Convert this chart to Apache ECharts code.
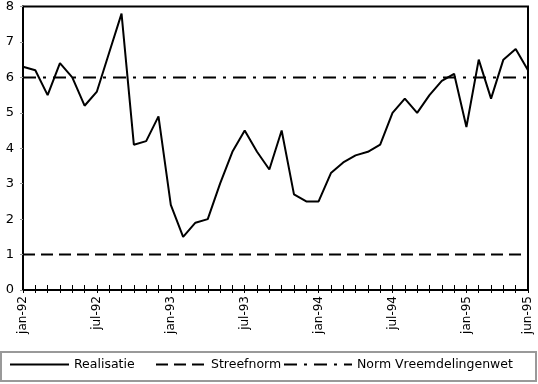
<!DOCTYPE html>
<html>
<head>
<meta charset="utf-8">
<script src="https://cdn.jsdelivr.net/npm/echarts@6/dist/echarts.min.js"></script>
<style>
html,body{margin:0;padding:0;background:#fff;}
#c{width:538px;height:384px;}
</style>
</head>
<body>
<div id="c"></div>
<script>
var categories = [
  'jan-92','feb-92','mrt-92','apr-92','mei-92','jun-92','jul-92','aug-92','sep-92','okt-92','nov-92','dec-92',
  'jan-93','feb-93','mrt-93','apr-93','mei-93','jun-93','jul-93','aug-93','sep-93','okt-93','nov-93','dec-93',
  'jan-94','feb-94','mrt-94','apr-94','mei-94','jun-94','jul-94','aug-94','sep-94','okt-94','nov-94','dec-94',
  'jan-95','feb-95','mrt-95','apr-95','mei-95','jun-95'
];
var realisatie = [
  6.3,6.2,5.5,6.4,6.0,5.2,5.6,6.7,7.8,4.1,4.2,4.9,
  2.4,1.5,1.9,2.0,3.0,3.9,4.5,3.9,3.4,4.5,2.7,2.5,
  2.5,3.3,3.6,3.8,3.9,4.1,5.0,5.4,5.0,5.5,5.9,6.1,
  4.6,6.5,5.4,6.5,6.8,6.2
];
var streefnormValue = 1;
var normVreemdelingenwetValue = 6;
var streefnorm = categories.map(function(){ return streefnormValue; });
var normVw = categories.map(function(){ return normVreemdelingenwetValue; });
var yTicks = [0,1,2,3,4,5,6,7,8];

var FONT = 'DejaVu Sans';
var chart = echarts.init(document.getElementById('c'), null, {renderer:'canvas'});
var labelIdx = {0:1,6:1,12:1,18:1,24:1,30:1,36:1,41:1};
var legendText = {fontSize:12.5,fontFamily:FONT,color:'#000'};
chart.setOption({
  animation:false,
  backgroundColor:'#fff',
  textStyle:{fontFamily:FONT,color:'#000'},
  grid:{left:23,right:10,top:5,bottom:94,show:true,borderColor:'#000',borderWidth:2,backgroundColor:'transparent'},
  xAxis:[{
    type:'category',data:categories,boundaryGap:false,
    axisLine:{lineStyle:{color:'#000',width:2}},
    axisTick:{show:true,interval:0,length:3,lineStyle:{color:'#000',width:1}},
    axisLabel:{rotate:90,margin:6,fontSize:12,fontFamily:FONT,color:'#000',
      interval:function(i){return !!labelIdx[i];}},
    splitLine:{show:false}
  },{
    type:'category',data:categories,boundaryGap:false,position:'bottom',
    axisLine:{show:false},
    axisTick:{show:true,inside:true,interval:0,length:5,lineStyle:{color:'#000',width:1}},
    axisLabel:{show:false},splitLine:{show:false}
  }],
  yAxis:{
    type:'value',min:yTicks[0],max:yTicks[yTicks.length-1],interval:1,
    axisLine:{show:true,lineStyle:{color:'#000',width:2}},
    axisTick:{show:true,length:3,lineStyle:{color:'#999'}},
    axisLabel:{fontSize:13,fontFamily:FONT,color:'#000',margin:9},
    splitLine:{show:false}
  },
  legend:[
    {data:['Realisatie'],left:9,top:358,itemWidth:59,itemHeight:12,padding:0,
     itemStyle:{opacity:0},textStyle:legendText},
    {data:['Streefnorm'],left:155,top:358,itemWidth:50,itemHeight:12,padding:0,
     itemStyle:{opacity:0},textStyle:legendText},
    {data:['Norm Vreemdelingenwet'],left:283,top:358,itemWidth:68,itemHeight:12,padding:0,
     itemStyle:{opacity:0},textStyle:legendText}
  ],
  graphic:[{type:'rect',shape:{x:1,y:352,width:535,height:29},
    style:{fill:'none',stroke:'#999',lineWidth:2},z:-1}],
  series:[
    {name:'Realisatie',type:'line',data:realisatie,symbol:'none',
     lineStyle:{color:'#000',width:2},itemStyle:{color:'#000'}},
    {name:'Streefnorm',type:'line',data:streefnorm,symbol:'none',
     lineStyle:{color:'#000',width:2,type:[12,6]},itemStyle:{color:'#000'}},
    {name:'Norm Vreemdelingenwet',type:'line',data:normVw,symbol:'none',
     lineStyle:{color:'#000',width:2,type:[13,7,3,7]},itemStyle:{color:'#000'}}
  ]
});
</script>
</body>
</html>
